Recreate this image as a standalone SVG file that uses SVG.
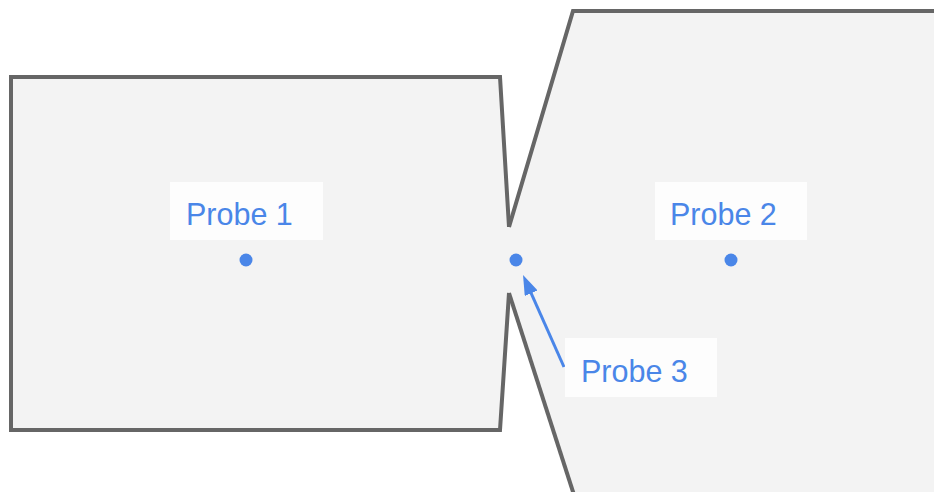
<svg xmlns="http://www.w3.org/2000/svg" width="934" height="492" viewBox="0 0 934 492">
<style>
.fill{fill:#f3f3f3;stroke:none}
.edge{fill:none;stroke:#666666;stroke-width:4;stroke-linejoin:miter}
.box{fill:#fdfdfd}
.lbl{font-family:"Liberation Sans",Arial,sans-serif;font-size:30.5px;fill:#4a86e8}
.dot{fill:#4a86e8}
.conn{stroke:#4a86e8;stroke-width:3;fill:none}
</style>
<defs>
<marker id="ah" markerWidth="20" markerHeight="14" refX="10" refY="7" orient="auto" markerUnits="userSpaceOnUse">
<path d="M0,0 L20,7 L0,14 z" fill="#4a86e8"/>
</marker>
</defs>
<rect width="934" height="492" fill="#ffffff"/>
<g id="regions">
<polygon class="fill" points="11,77 500,77 509,227 573,11 940,11 940,500 575,500 509,293 500,430 11,430"/>
<polyline class="edge" points="509,227 500,77 11,77 11,430 500,430 509,293"/>
<polyline class="edge" points="509,227 573,11 940,11"/>
<polyline class="edge" points="509,293 575,498"/>
</g>
<g id="connectors">
<line class="conn" x1="564" y1="367" x2="527.1" y2="284.1" marker-end="url(#ah)"/>
</g>
<g id="probe1">
<rect class="box" x="170" y="182" width="153" height="58"/>
<text class="lbl" x="186" y="225">Probe 1</text>
<circle class="dot" cx="246" cy="260" r="6.5"/>
</g>
<g id="probe2">
<rect class="box" x="655" y="182" width="152" height="58"/>
<text class="lbl" x="670" y="225">Probe 2</text>
<circle class="dot" cx="731" cy="260" r="6.5"/>
</g>
<g id="probe3">
<rect class="box" x="565" y="338" width="152" height="59"/>
<text class="lbl" x="581" y="382">Probe 3</text>
<circle class="dot" cx="516" cy="260" r="6.5"/>
</g>
</svg>
